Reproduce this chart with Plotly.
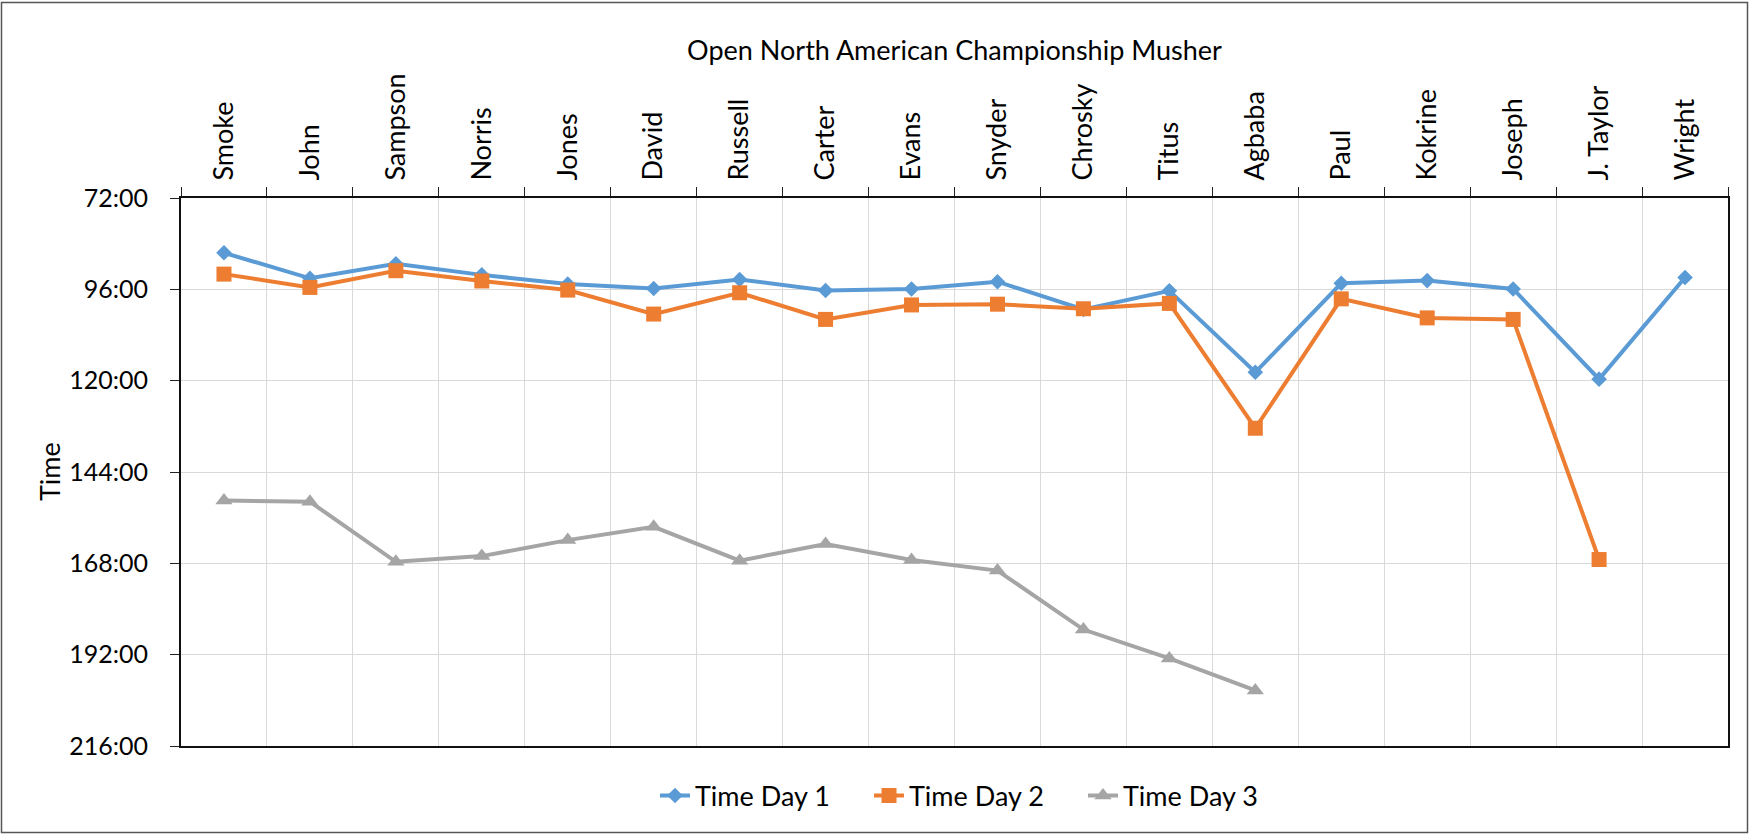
import plotly.graph_objects as go

mushers = ["Smoke", "John", "Sampson", "Norris", "Jones", "David", "Russell", "Carter",
           "Evans", "Snyder", "Chrosky", "Titus", "Agbaba", "Paul", "Kokrine", "Joseph",
           "J. Taylor", "Wright"]

# elapsed time in hours
day1 = [86.4, 93.1, 89.3, 92.2, 94.6, 95.8, 93.4, 96.3, 95.9, 94.0, 101.3, 96.4,
        117.8, 94.4, 93.7, 95.9, 119.6, 92.9]
day2 = [92.0, 95.5, 91.1, 93.8, 96.2, 102.5, 96.9, 103.9, 100.1, 99.9, 101.1, 99.7,
        132.5, 98.5, 103.5, 103.9, 167.0, None]
day3 = [151.5, 151.8, 167.6, 166.1, 161.9, 158.4, 167.3, 162.9, 167.1, 169.9, 185.4,
        193.0, 201.4, None, None, None, None, None]

y_ticks = [72, 96, 120, 144, 168, 192, 216]
y_tick_text = ["72:00", "96:00", "120:00", "144:00", "168:00", "192:00", "216:00"]

W, H = 1750, 834
ML, MR, MT, MB = 181, 22, 198, 88
PW, PH = W - ML - MR, H - MT - MB

FONT = "Lato"
TXT = "#000000"
FS = 27

def hhmm(v):
    if v is None:
        return ""
    h = int(v)
    m = int(round((v - h) * 60))
    return f"{h}:{m:02d}"

def px_x(p):
    return (p - ML) / PW

def px_y(p):
    return (MT + PH - p) / PH

fig = go.Figure()
series = [
    ("Time Day 1", day1, "#5B9BD5", "diamond", 12),
    ("Time Day 2", day2, "#ED7D31", "square", 15),
    ("Time Day 3", day3, "#A5A5A5", "triangle-up", 15),
]
for name, vals, col, sym, sz in series:
    fig.add_trace(go.Scatter(
        x=mushers, y=vals, name=name, mode="lines+markers",
        line=dict(color=col, width=4),
        marker=dict(color=col, symbol=sym, size=sz),
        text=[hhmm(v) for v in vals],
        hovertemplate="%{x}: %{text}<extra>" + name + "</extra>",
        connectgaps=False,
    ))

fig.update_layout(
    width=W, height=H,
    margin=dict(l=ML, r=MR, t=MT, b=MB, autoexpand=False),
    paper_bgcolor="white", plot_bgcolor="white",
    font=dict(family=FONT, size=FS, color=TXT),
    title=dict(text="Open North American Championship Musher", x=(ML + PW / 2) / W,
               xanchor="center", y=1 - 51 / H, yanchor="middle",
               font=dict(family=FONT, size=FS, color=TXT)),
    showlegend=True,
    legend=dict(orientation="h", x=px_x(655), xanchor="left", y=px_y(796),
                yanchor="middle", font=dict(family=FONT, size=FS, color=TXT),
                entrywidth=169, entrywidthmode="pixels",
                tracegroupgap=0, bgcolor="rgba(0,0,0,0)"),
    xaxis=dict(
        side="top", type="category", tickangle=-90, tickson="boundaries",
        ticks="outside", ticklen=9, tickwidth=1, tickcolor="#222222",
        ticklabelstandoff=10,
        showgrid=True, gridcolor="#D9D9D9", gridwidth=1,
        showline=True, linecolor="#111111", linewidth=2, mirror=True,
        tickfont=dict(family=FONT, size=FS, color=TXT),
        range=[-0.5, len(mushers) - 0.5],
    ),
    yaxis=dict(
        range=[216, 72], tickvals=y_ticks, ticktext=y_tick_text,
        ticks="outside", ticklen=9, tickwidth=1, tickcolor="#222222",
        ticklabelstandoff=17,
        showgrid=True, gridcolor="#D9D9D9", gridwidth=1,
        showline=True, linecolor="#111111", linewidth=2, mirror=True,
        zeroline=False, tickfont=dict(family=FONT, size=25, color=TXT),
    ),
)

fig.add_annotation(text="Time", xref="paper", yref="paper",
                   x=px_x(49), y=px_y(472), textangle=-90,
                   showarrow=False, xanchor="center", yanchor="middle",
                   font=dict(family=FONT, size=FS, color=TXT))

# outer chart border
fig.add_shape(type="rect", xref="paper", yref="paper",
              x0=px_x(1.5), x1=px_x(W - 2.5),
              y0=px_y(H - 1.5), y1=px_y(2.5),
              line=dict(color="#555555", width=1.5), layer="below")

fig.write_html("out.html",
               config={"displayModeBar": False},
               post_script="document.body.style.margin='0';document.body.style.overflow='hidden';")
